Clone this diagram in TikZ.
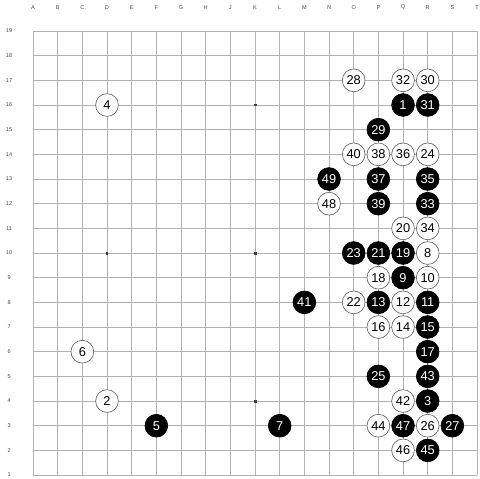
\documentclass[tikz,border=0pt]{standalone}
\usepackage{fontspec}
\setmainfont{Liberation Sans}
\usetikzlibrary{positioning}

\begin{document}
\begin{tikzpicture}[
    x=0.65cm, y=0.65cm,
    gridline/.style={draw=black!30, line width=0.5pt},
    coordlabel/.style={font=\fontsize{4.2}{5}\selectfont, text=black!70, inner sep=0pt},
    hoshi/.style={fill=black!75},
    blackstone/.style={circle, fill=black, draw=black, line width=0.5pt, minimum size=0.6cm, inner sep=0pt, text=white, font=\fontsize{9.6}{10}\selectfont},
    whitestone/.style={circle, fill=white, draw=black!60, line width=0.5pt, minimum size=0.6cm, inner sep=0pt, text=black, font=\fontsize{9.6}{10}\selectfont}
]

\useasboundingbox[fill=white] (-0.338,0.84) rectangle (19.12,20.257);

% board
\foreach \i in {1,...,19} {
    \draw[gridline] (\i,1) -- (\i,19);
    \draw[gridline] (1,\i) -- (19,\i);
}
\foreach \hx in {4,10,16}
    \foreach \hy in {4,10,16}
        \fill[hoshi] (\hx-0.06,\hy-0.06) rectangle (\hx+0.06,\hy+0.06);

% coordinates
\foreach \l [count=\i] in {A,B,C,D,E,F,G,H,J,K,L,M,N,O,P,Q,R,S,T}
    \node[coordlabel] (col\l) at (\i,19.95) {\l};
\foreach \r in {1,...,19}
    \node[coordlabel] (row\r) at (0.03,\r) {\r};

% black moves
\foreach \n/\cx/\cy in {1/16/16, 3/17/4, 5/6/3, 7/11/3, 9/16/9, 11/17/8, 13/15/8,
    15/17/7, 17/17/6, 19/16/10, 21/15/10, 23/14/10, 25/15/5, 27/18/3, 29/15/15,
    31/17/16, 33/17/12, 35/17/13, 37/15/13, 39/15/12, 41/12/8, 43/17/5, 45/17/2,
    47/16/3, 49/13/13}
    \node[blackstone] (m\n) at (\cx,\cy) {\n};

% white moves
\foreach \n/\cx/\cy in {2/4/4, 4/4/16, 6/3/6, 8/17/10, 10/17/9, 12/16/8, 14/16/7,
    16/15/7, 18/15/9, 20/16/11, 22/14/8, 24/17/14, 26/17/3, 28/14/17, 30/17/17,
    32/16/17, 34/17/11, 36/16/14, 38/15/14, 40/14/14, 42/16/4, 44/15/3, 46/16/2,
    48/13/12}
    \node[whitestone] (m\n) at (\cx,\cy) {\n};

\end{tikzpicture}
\end{document}
